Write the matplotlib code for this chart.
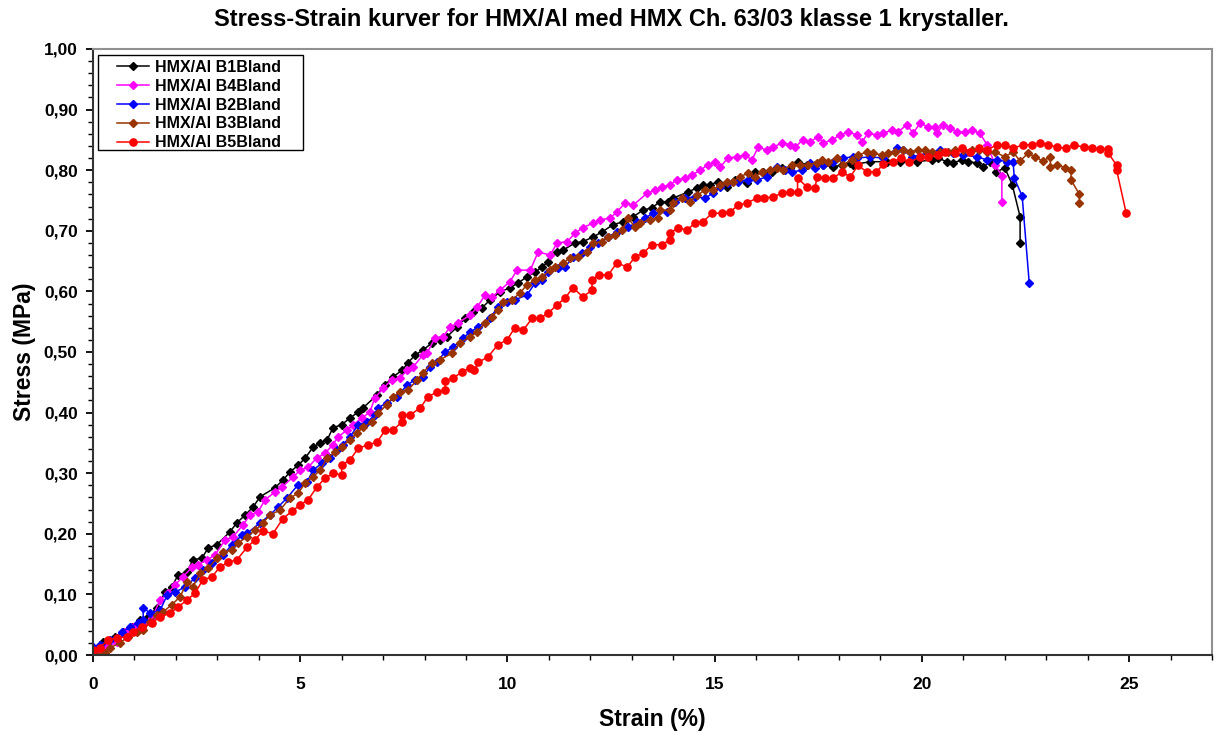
import matplotlib.pyplot as plt
from matplotlib.patches import Rectangle
from matplotlib.ticker import MultipleLocator, FuncFormatter

plt.rcParams['font.family'] = ['Liberation Sans', 'DejaVu Sans']
plt.rcParams['font.weight'] = 'bold'

# strain (%) / stress (MPa)
b1_strain = [0, 0.24, 0.53, 0.72, 0.94, 1.13, 1.33, 1.54, 1.74, 1.9,
             2.05, 2.27, 2.41, 2.63, 2.78, 2.99, 3.3, 3.47, 3.67, 3.86,
             4.03, 4.39, 4.59, 4.75, 4.95, 5.12, 5.31, 5.48, 5.65, 5.79,
             6.0, 6.2, 6.4, 6.52, 6.85, 7.05, 7.24, 7.46, 7.6, 7.77,
             7.96, 8.18, 8.37, 8.54, 8.78, 8.98, 9.17, 9.39, 9.58, 9.82,
             10.06, 10.26, 10.47, 10.67, 10.83, 10.98, 11.2, 11.34, 11.63, 11.82,
             12.07, 12.28, 12.55, 12.79, 13.03, 13.27, 13.49, 13.68, 13.88, 14.0,
             14.36, 14.58, 14.72, 14.89, 15.08, 15.3, 15.49, 15.78, 15.97, 16.17,
             16.38, 16.63, 16.82, 17.0, 17.23, 17.42, 17.62, 17.86, 18.07, 18.27,
             18.34, 18.75, 19.16, 19.47, 19.88, 20.25, 20.39, 20.6, 20.75, 20.97,
             21.11, 21.33, 21.48, 21.65, 21.8, 22.0, 22.18, 22.37, 22.37]
b1_stress = [0.005, 0.021, 0.03, 0.038, 0.046, 0.058, 0.063, 0.078, 0.104, 0.112,
             0.132, 0.137, 0.157, 0.16, 0.177, 0.182, 0.203, 0.218, 0.231, 0.244,
             0.261, 0.276, 0.289, 0.302, 0.313, 0.325, 0.343, 0.35, 0.355, 0.375,
             0.38, 0.391, 0.401, 0.408, 0.429, 0.446, 0.459, 0.47, 0.482, 0.495,
             0.503, 0.515, 0.52, 0.525, 0.541, 0.556, 0.566, 0.573, 0.586, 0.599,
             0.606, 0.614, 0.624, 0.632, 0.64, 0.649, 0.665, 0.668, 0.68, 0.682,
             0.69, 0.698, 0.71, 0.715, 0.723, 0.734, 0.738, 0.748, 0.748, 0.754,
             0.764, 0.771, 0.776, 0.776, 0.781, 0.772, 0.784, 0.779, 0.797, 0.797,
             0.797, 0.804, 0.804, 0.814, 0.809, 0.809, 0.809, 0.805, 0.809, 0.812,
             0.809, 0.814, 0.814, 0.814, 0.814, 0.817, 0.82, 0.814, 0.812, 0.817,
             0.814, 0.812, 0.805, 0.814, 0.797, 0.804, 0.776, 0.723, 0.68]

b4_strain = [0.05, 0.34, 0.58, 0.77, 0.97, 1.21, 1.42, 1.62, 1.81, 1.98,
             2.17, 2.39, 2.53, 2.75, 2.94, 3.19, 3.38, 3.62, 3.79, 3.98,
             4.15, 4.39, 4.56, 4.83, 5.0, 5.19, 5.4, 5.6, 5.79, 5.91,
             6.13, 6.27, 6.49, 6.68, 6.8, 7.0, 7.21, 7.41, 7.58, 7.72,
             7.96, 8.06, 8.25, 8.45, 8.61, 8.81, 9.1, 9.27, 9.46, 9.63,
             9.82, 10.06, 10.23, 10.55, 10.74, 11.03, 11.2, 11.44, 11.63, 11.82,
             12.07, 12.24, 12.48, 12.64, 12.84, 13.03, 13.37, 13.56, 13.73, 13.92,
             14.09, 14.29, 14.45, 14.65, 14.84, 15.01, 15.13, 15.32, 15.54, 15.73,
             15.9, 16.05, 16.26, 16.41, 16.63, 16.82, 16.94, 17.13, 17.3, 17.5,
             17.62, 17.83, 18.03, 18.22, 18.44, 18.56, 18.7, 18.92, 19.06, 19.28,
             19.42, 19.64, 19.79, 19.96, 20.15, 20.32, 20.37, 20.51, 20.68, 20.85,
             21.04, 21.2, 21.4, 21.57, 21.77, 21.93, 21.93]
b4_stress = [0.003, 0.013, 0.021, 0.038, 0.046, 0.053, 0.061, 0.091, 0.102, 0.116,
             0.129, 0.145, 0.149, 0.157, 0.165, 0.19, 0.195, 0.215, 0.231, 0.236,
             0.256, 0.269, 0.277, 0.294, 0.305, 0.31, 0.325, 0.333, 0.347, 0.36,
             0.371, 0.38, 0.391, 0.401, 0.424, 0.44, 0.454, 0.457, 0.47, 0.475,
             0.495, 0.498, 0.523, 0.525, 0.541, 0.548, 0.561, 0.574, 0.594, 0.591,
             0.602, 0.616, 0.635, 0.635, 0.665, 0.66, 0.68, 0.682, 0.696, 0.705,
             0.713, 0.718, 0.721, 0.731, 0.746, 0.742, 0.762, 0.767, 0.772, 0.776,
             0.784, 0.787, 0.792, 0.80, 0.809, 0.814, 0.805, 0.82, 0.822, 0.825,
             0.817, 0.838, 0.833, 0.838, 0.845, 0.842, 0.838, 0.85, 0.847, 0.855,
             0.845, 0.85, 0.858, 0.863, 0.858, 0.847, 0.861, 0.858, 0.861, 0.866,
             0.863, 0.875, 0.861, 0.878, 0.871, 0.871, 0.861, 0.875, 0.87, 0.863,
             0.863, 0.866, 0.861, 0.842, 0.809, 0.79, 0.748]

b2_strain = [0, 0.17, 0.41, 0.7, 0.89, 1.09, 1.21, 1.21, 1.38, 1.62,
             1.79, 1.98, 2.22, 2.46, 2.65, 2.87, 3.14, 3.35, 3.6, 3.72,
             4.03, 4.27, 4.46, 4.68, 4.95, 5.16, 5.31, 5.53, 5.72, 5.89,
             6.03, 6.2, 6.4, 6.61, 6.8, 6.88, 7.09, 7.34, 7.58, 7.77,
             7.96, 8.13, 8.3, 8.49, 8.69, 8.93, 9.1, 9.29, 9.58, 9.77,
             9.99, 10.18, 10.47, 10.67, 10.83, 10.98, 11.22, 11.39, 11.58, 11.8,
             11.99, 12.19, 12.43, 12.64, 12.91, 13.13, 13.32, 13.51, 13.85, 14.04,
             14.29, 14.53, 14.77, 14.96, 15.13, 15.32, 15.56, 15.8, 16.02, 16.26,
             16.5, 16.7, 16.87, 17.11, 17.3, 17.42, 17.62, 17.86, 18.1, 18.34,
             18.44, 18.75, 19.06, 19.4, 19.55, 19.76, 20.13, 20.44, 20.75, 21.0,
             21.33, 21.57, 21.81, 22.05, 22.2, 22.23, 22.42, 22.59]
b2_stress = [0.013, 0.017, 0.025, 0.038, 0.046, 0.053, 0.058, 0.078, 0.069, 0.074,
             0.099, 0.104, 0.112, 0.127, 0.14, 0.152, 0.165, 0.182, 0.198, 0.201,
             0.218, 0.231, 0.244, 0.259, 0.281, 0.285, 0.305, 0.317, 0.325, 0.338,
             0.347, 0.36, 0.38, 0.384, 0.396, 0.408, 0.416, 0.426, 0.446, 0.454,
             0.459, 0.475, 0.483, 0.50, 0.508, 0.523, 0.533, 0.541, 0.556, 0.574,
             0.583, 0.586, 0.594, 0.614, 0.619, 0.632, 0.639, 0.64, 0.657, 0.663,
             0.673, 0.68, 0.69, 0.698, 0.706, 0.714, 0.721, 0.729, 0.731, 0.748,
             0.754, 0.756, 0.754, 0.762, 0.772, 0.779, 0.781, 0.784, 0.784, 0.789,
             0.805, 0.80, 0.797, 0.80, 0.812, 0.804, 0.809, 0.814, 0.82, 0.822,
             0.82, 0.822, 0.82, 0.836, 0.833, 0.822, 0.828, 0.833, 0.828, 0.825,
             0.822, 0.817, 0.817, 0.814, 0.814, 0.787, 0.757, 0.614]

b3_strain = [0, 0.29, 0.41, 0.65, 0.84, 1.06, 1.21, 1.38, 1.54, 1.69,
             1.9, 2.1, 2.27, 2.41, 2.58, 2.78, 2.99, 3.14, 3.35, 3.5,
             3.72, 3.91, 4.1, 4.27, 4.51, 4.75, 4.95, 5.12, 5.31, 5.48,
             5.65, 5.84, 6.0, 6.2, 6.37, 6.52, 6.73, 6.88, 7.09, 7.24,
             7.41, 7.6, 7.82, 7.96, 8.18, 8.37, 8.66, 8.86, 9.1, 9.27,
             9.46, 9.63, 9.77, 9.89, 10.11, 10.3, 10.47, 10.67, 10.83, 11.03,
             11.15, 11.34, 11.51, 11.7, 11.92, 12.07, 12.28, 12.43, 12.6, 12.77,
             12.91, 13.08, 13.2, 13.44, 13.63, 13.68, 13.92, 14.0, 14.21, 14.41,
             14.58, 14.77, 14.96, 15.13, 15.3, 15.44, 15.61, 15.8, 15.97, 16.14,
             16.34, 16.5, 16.65, 16.87, 17.06, 17.25, 17.47, 17.59, 17.74, 17.95,
             18.1, 18.32, 18.46, 18.67, 18.82, 19.04, 19.18, 19.35, 19.55, 19.71,
             19.9, 20.08, 20.25, 20.44, 20.63, 20.8, 21.0, 21.2, 21.37, 21.57,
             21.77, 22.0, 22.2, 22.37, 22.56, 22.73, 22.92, 23.1, 23.1, 23.27,
             23.45, 23.6, 23.6, 23.8, 23.8]
b3_stress = [0.003, 0.003, 0.012, 0.02, 0.03, 0.038, 0.041, 0.054, 0.066, 0.071,
             0.083, 0.096, 0.12, 0.112, 0.135, 0.143, 0.16, 0.17, 0.173, 0.185,
             0.195, 0.206, 0.218, 0.231, 0.239, 0.259, 0.267, 0.284, 0.294, 0.305,
             0.325, 0.335, 0.343, 0.355, 0.366, 0.376, 0.384, 0.399, 0.413, 0.426,
             0.434, 0.437, 0.454, 0.466, 0.482, 0.487, 0.498, 0.515, 0.525, 0.533,
             0.548, 0.558, 0.569, 0.583, 0.586, 0.597, 0.611, 0.619, 0.624, 0.635,
             0.64, 0.647, 0.655, 0.657, 0.665, 0.68, 0.682, 0.69, 0.693, 0.701,
             0.721, 0.706, 0.713, 0.718, 0.721, 0.734, 0.734, 0.746, 0.754, 0.748,
             0.759, 0.767, 0.767, 0.776, 0.781, 0.781, 0.789, 0.795, 0.789, 0.797,
             0.80, 0.804, 0.80, 0.809, 0.809, 0.809, 0.812, 0.817, 0.814, 0.82,
             0.809, 0.817, 0.825, 0.83, 0.828, 0.825, 0.828, 0.83, 0.833, 0.83,
             0.833, 0.833, 0.83, 0.83, 0.83, 0.833, 0.833, 0.833, 0.833, 0.83,
             0.83, 0.822, 0.83, 0.815, 0.828, 0.822, 0.815, 0.822, 0.806, 0.809,
             0.804, 0.80, 0.784, 0.76, 0.746]

b5_strain = [0, 0.17, 0.36, 0.58, 0.82, 0.97, 1.18, 1.42, 1.62, 1.86,
             2.05, 2.27, 2.46, 2.65, 2.87, 3.06, 3.26, 3.47, 3.72, 3.91,
             4.1, 4.34, 4.58, 4.8, 5.0, 5.19, 5.4, 5.6, 5.8, 6.0,
             6.0, 6.2, 6.4, 6.64, 6.85, 7.05, 7.24, 7.46, 7.46, 7.65,
             7.9, 8.08, 8.3, 8.5, 8.5, 8.69, 8.9, 9.1, 9.2, 9.3,
             9.53, 9.77, 9.99, 10.18, 10.38, 10.6, 10.79, 10.98, 11.2, 11.39,
             11.58, 11.82, 12.04, 12.04, 12.2, 12.43, 12.64, 12.89, 13.08, 13.27,
             13.49, 13.73, 13.92, 13.92, 14.12, 14.33, 14.53, 14.72, 14.94, 15.18,
             15.37, 15.56, 15.78, 16.02, 16.2, 16.4, 16.63, 16.82, 17.0, 17.0,
             17.23, 17.42, 17.47, 17.66, 17.86, 18.07, 18.27, 18.46, 18.67, 18.9,
             19.07, 19.3, 19.5, 19.7, 19.96, 20.15, 20.4, 20.56, 20.8, 20.97,
             21.16, 21.37, 21.57, 21.81, 22.0, 22.2, 22.44, 22.65, 22.85, 23.05,
             23.26, 23.48, 23.67, 23.9, 24.1, 24.3, 24.5, 24.5, 24.7, 24.7,
             24.93]
b5_stress = [0.008, 0.012, 0.025, 0.028, 0.03, 0.038, 0.046, 0.053, 0.063, 0.069,
             0.079, 0.091, 0.102, 0.124, 0.129, 0.145, 0.153, 0.157, 0.178, 0.19,
             0.205, 0.20, 0.225, 0.237, 0.248, 0.256, 0.277, 0.292, 0.30, 0.297,
             0.313, 0.322, 0.341, 0.347, 0.351, 0.371, 0.371, 0.385, 0.396, 0.396,
             0.408, 0.426, 0.434, 0.437, 0.452, 0.457, 0.467, 0.474, 0.47, 0.483,
             0.492, 0.512, 0.52, 0.54, 0.536, 0.556, 0.556, 0.564, 0.578, 0.589,
             0.606, 0.591, 0.602, 0.619, 0.627, 0.627, 0.647, 0.64, 0.657, 0.663,
             0.677, 0.677, 0.685, 0.696, 0.705, 0.701, 0.713, 0.715, 0.729, 0.729,
             0.731, 0.742, 0.746, 0.754, 0.754, 0.756, 0.762, 0.764, 0.764, 0.787,
             0.772, 0.77, 0.789, 0.787, 0.787, 0.797, 0.789, 0.808, 0.797, 0.797,
             0.81, 0.814, 0.82, 0.813, 0.822, 0.822, 0.825, 0.83, 0.828, 0.836,
             0.83, 0.836, 0.833, 0.842, 0.842, 0.836, 0.842, 0.842, 0.845, 0.842,
             0.838, 0.836, 0.842, 0.838, 0.837, 0.835, 0.835, 0.828, 0.808, 0.80,
             0.729]

labels = ["HMX/Al B1Bland", "HMX/Al B4Bland", "HMX/Al B2Bland",
          "HMX/Al B3Bland", "HMX/Al B5Bland"]
colors = ["#000000", "#FF00FF", "#0000FF", "#993300", "#FF0000"]
markers = ["D", "D", "D", "D", "o"]

series = [(b1_strain, b1_stress), (b4_strain, b4_stress), (b2_strain, b2_stress),
          (b3_strain, b3_stress), (b5_strain, b5_stress)]

fig = plt.figure(figsize=(12.16, 7.33), dpi=100)
ax = fig.add_axes([0.0765, 0.1064, 0.9202, 0.8268])

for (xs, ys), lab, c, m in zip(series, labels, colors, markers):
    ms = 4.3 if m == "D" else 5.2
    ax.plot(xs, ys, color=c, marker=m, markersize=ms, linewidth=1.1, label=lab)

ax.set_xlim(0, 27)
ax.set_ylim(0, 1.0)
ax.xaxis.set_major_locator(MultipleLocator(5))
ax.xaxis.set_minor_locator(MultipleLocator(1))
ax.yaxis.set_major_locator(MultipleLocator(0.1))
ax.yaxis.set_minor_locator(MultipleLocator(0.02))
ax.yaxis.set_major_formatter(FuncFormatter(lambda v, p: f"{v:.2f}".replace(".", ",")))
ax.tick_params(axis="y", which="major", direction="out", length=5, width=1.3,
               labelsize=12.5, pad=6)
ax.tick_params(axis="x", which="major", direction="out", length=5, width=1.3,
               labelsize=12.5, pad=11)
ax.tick_params(axis="both", which="minor", direction="out", length=3.5, width=1.0)

for s in ["left", "bottom"]:
    ax.spines[s].set_color("#333333")
    ax.spines[s].set_linewidth(1.5)
for s in ["top", "right"]:
    ax.spines[s].set_color("#909090")
    ax.spines[s].set_linewidth(1.5)

ax.set_xlabel("Strain (%)", fontsize=16.5, fontweight="bold", labelpad=11)
ax.set_ylabel("Stress (MPa)", fontsize=16.5, fontweight="bold", labelpad=6)
fig.text(0.503, 0.973,
         "Stress-Strain kurver for HMX/Al med HMX Ch. 63/03 klasse 1 krystaller.",
         fontsize=17, fontweight="bold", ha="center", va="center")

# legend box drawn separately so its padding matches the original
fig.patches.append(Rectangle((98 / 1216, 1 - 150 / 733), 205 / 1216, 95 / 733,
                             transform=fig.transFigure, facecolor="white",
                             edgecolor="black", linewidth=1.0, zorder=5))
leg = fig.legend(loc="upper left", bbox_to_anchor=(117 / 1216, 1 - 60 / 733),
                 fontsize=11.5, frameon=False, borderpad=0, labelspacing=0.24,
                 handlelength=2.0, handletextpad=0.4, borderaxespad=0)
leg.set_zorder(6)

fig.savefig("out.png", dpi=100)
